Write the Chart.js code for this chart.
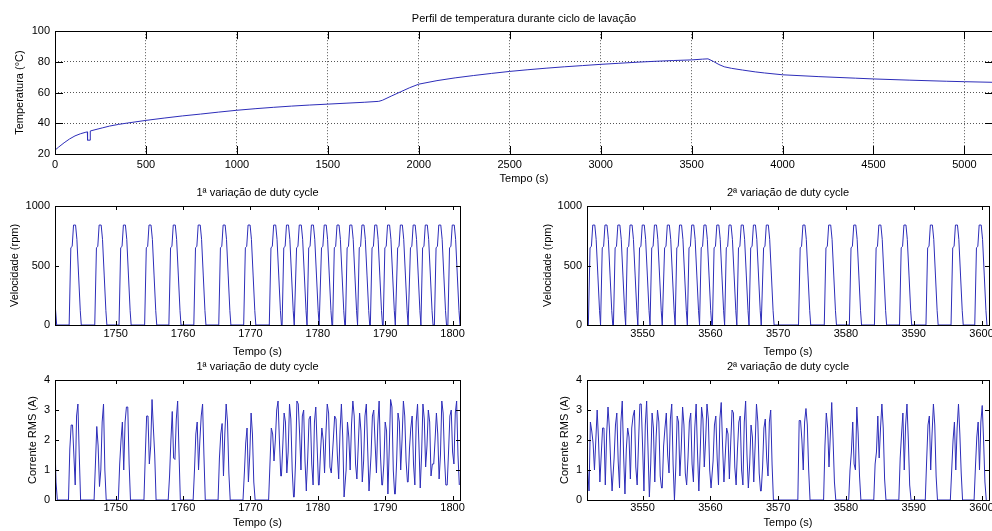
<!DOCTYPE html>
<html>
<head>
<meta charset="utf-8">
<script src="https://cdn.jsdelivr.net/npm/chart.js@4.4.0/dist/chart.umd.min.js"></script>
<style>
  body { margin: 0; background: #fff; width: 992px; height: 531px; overflow: hidden; position: relative; }
  canvas { position: absolute; }
</style>
</head>
<body>
<canvas id="tempChart" width="1000" height="190" style="left:0px;top:0px"></canvas>
<canvas id="vel1" width="480" height="178" style="left:0px;top:182px"></canvas>
<canvas id="vel2" width="500" height="178" style="left:500px;top:182px"></canvas>
<canvas id="cur1" width="480" height="173" style="left:0px;top:358px"></canvas>
<canvas id="cur2" width="500" height="173" style="left:500px;top:358px"></canvas>
<script>
// temperature profile (s, °C)
const tempTime = [0, 20, 50, 80, 110, 140, 170, 178, 179, 193, 194, 220, 260, 300, 350, 400, 500, 600, 700, 800,
  900, 1000, 1100, 1200, 1300, 1400, 1500, 1600, 1700, 1780, 1800, 1850, 1900, 1950, 2000, 2100, 2200, 2300,
  2400, 2500, 2600, 2700, 2800, 2900, 3000, 3100, 3200, 3300, 3400, 3500, 3560, 3590, 3620, 3650, 3680, 3720,
  3780, 3850, 3900, 4000, 4200, 4400, 4500, 4700, 4900, 5000, 5160];
const tempValue = [22.5, 24.5, 27.3, 29.8, 31.8, 33.2, 34.2, 34.4, 29, 29, 35, 35.8, 37, 38.2, 39.3, 40.2, 41.9, 43.4, 44.8, 46.0,
  47.3, 48.5, 49.5, 50.4, 51.2, 51.9, 52.5, 53.1, 53.7, 54.3, 55.0, 57.8, 60.5, 63.2, 65.5, 67.8, 69.6, 71.1,
  72.5, 73.8, 74.9, 75.9, 76.8, 77.6, 78.4, 79.1, 79.8, 80.4, 80.9, 81.3, 81.8, 82.0, 80.3, 78.3, 76.8, 75.8,
  74.7, 73.5, 72.8, 71.6, 70.4, 69.4, 68.9, 68.1, 67.4, 67.1, 66.7];
const tempTicksX = [0, 500, 1000, 1500, 2000, 2500, 3000, 3500, 4000, 4500, 5000];
const tempTicksY = [20, 40, 60, 80, 100];

// speed pulses: peak times and pulse profile
const vel1Peaks = [1743.9, 1747.7, 1751.3, 1755.1, 1758.7, 1762.4, 1766.1, 1769.8, 1773.6, 1775.5, 1777.4, 1779.2,
  1781.1, 1783.0, 1784.9, 1786.7, 1788.6, 1790.5, 1792.4, 1794.3, 1796.1, 1798.1, 1800.1];
const vel2Peaks = [3542.8, 3544.6, 3546.5, 3548.3, 3550.1, 3551.9, 3553.8, 3555.6, 3557.4, 3559.2, 3561.1, 3562.9,
  3564.7, 3566.5, 3568.4, 3573.8, 3577.6, 3581.3, 3585.0, 3588.7, 3592.6, 3596.3, 3599.8];
const pulseOffsets = [-0.8, -0.55, -0.35, -0.15, 0.15, 0.35, 0.6, 0.85, 1.0];
const pulseRpm = [0, 650, 660, 840, 840, 720, 420, 120, 0];
const velTicksY = [0, 500, 1000];

// RMS current, one row per speed pulse
const curOffsets = [-0.9, -0.7, -0.5, -0.3, -0.1, 0.1, 0.3, 0.5, 0.7, 0.9];
const cur1Bursts = [
  [0, 1.7, 2.5, 2.5, 1.5, 0.5, 2.8, 3.2, 1.5, 0],
  [0, 1.2, 2.45, 1.8, 0.45, 1.0, 2.6, 3.2, 1.0, 0],
  [0, 1.2, 2.0, 2.6, 1.0, 2.6, 3.1, 3.1, 1.2, 0],
  [0, 1.5, 2.8, 2.8, 1.2, 1.8, 3.35, 2.4, 1.5, 0],
  [0, 0.8, 2.0, 2.95, 1.4, 1.35, 2.7, 3.3, 1.6, 0],
  [0, 1.0, 2.2, 2.6, 1.0, 2.0, 2.8, 3.2, 1.5, 0],
  [0, 1.4, 2.2, 2.55, 0.8, 2.2, 3.2, 2.6, 0.9, 0],
  [0, 0.9, 1.9, 2.4, 0.6, 1.5, 2.9, 2.2, 0.6, 0],
  [0, 1.2, 2.4, 2.2, 1.3, 2.0, 3.0, 3.3, 2.0, 0.8],
  [0.8, 1.8, 2.9, 2.6, 0.9, 1.6, 3.2, 2.7, 1.0, 0.1],
  [0.1, 1.3, 3.3, 3.2, 2.2, 1.0, 2.8, 3.0, 1.3, 0.3],
  [0.4, 1.4, 2.7, 2.8, 1.2, 0.5, 2.6, 3.1, 1.8, 0.5],
  [0.5, 1.6, 2.4, 2.0, 0.9, 2.2, 3.2, 2.9, 1.1, 0.9],
  [0.9, 2.0, 2.8, 2.7, 1.5, 0.7, 2.3, 3.2, 2.1, 0.1],
  [0.1, 1.0, 2.6, 2.1, 1.0, 2.5, 3.3, 2.8, 1.2, 0.7],
  [0.7, 1.8, 2.9, 2.3, 0.6, 1.3, 2.8, 3.2, 1.7, 0.3],
  [0.3, 1.5, 2.8, 3.0, 1.9, 0.9, 2.5, 3.3, 1.5, 0.5],
  [0.5, 1.2, 2.6, 2.3, 0.2, 1.7, 3.35, 3.1, 1.0, 0.2],
  [0.2, 1.3, 2.9, 2.6, 1.0, 2.0, 3.3, 2.8, 1.3, 0.6],
  [0.6, 1.7, 2.4, 2.8, 1.2, 0.5, 2.6, 3.2, 1.9, 0.4],
  [0.4, 1.5, 3.2, 2.7, 1.1, 1.8, 3.0, 2.6, 0.8, 1.2],
  [1.2, 2.0, 2.9, 2.2, 0.7, 1.5, 3.3, 2.9, 1.4, 0.5],
  [0.5, 1.6, 2.8, 3.0, 1.6, 1.2, 2.9, 3.3, 1.5, 0.5]
];
const cur2Bursts = [
  [1.0, 0.3, 2.6, 2.3, 1.9, 1.0, 2.0, 3.0, 2.0, 0.6],
  [0.6, 1.5, 2.4, 2.4, 0.5, 2.2, 3.1, 2.4, 1.2, 0.3],
  [0.3, 1.4, 2.5, 2.9, 1.3, 0.4, 2.6, 3.3, 1.5, 0.2],
  [0.2, 1.7, 2.4, 2.1, 0.7, 2.4, 2.8, 3.0, 1.1, 0.5],
  [0.5, 1.9, 3.2, 3.2, 1.8, 0.3, 2.5, 3.3, 1.7, 0.1],
  [0.1, 1.2, 2.9, 2.4, 0.6, 2.1, 3.0, 2.6, 0.8, 0.4],
  [0.4, 1.8, 2.4, 2.9, 1.5, 0.9, 2.7, 3.2, 1.2, 0.0],
  [0.0, 1.1, 2.8, 2.6, 0.8, 1.7, 3.1, 2.5, 0.9, 0.5],
  [0.5, 1.4, 2.6, 2.9, 1.2, 0.6, 2.4, 3.2, 1.6, 0.3],
  [0.3, 1.6, 3.1, 2.7, 1.1, 2.0, 3.2, 2.7, 1.0, 0.4],
  [0.4, 1.3, 2.5, 2.8, 1.4, 0.5, 2.7, 3.25, 1.8, 0.6],
  [0.6, 1.5, 2.4, 2.2, 0.7, 1.9, 3.0, 2.9, 1.1, 0.5],
  [0.5, 1.7, 2.6, 2.8, 1.0, 0.5, 2.6, 3.3, 1.5, 0.4],
  [0.4, 1.2, 2.5, 2.1, 0.6, 1.8, 3.2, 2.6, 0.9, 0.3],
  [0.3, 1.1, 2.4, 2.7, 1.4, 0.8, 2.6, 3.0, 1.2, 0.0],
  [0, 2.65, 2.65, 2.0, 1.0, 2.6, 3.05, 2.5, 1.0, 0],
  [0, 1.8, 2.9, 2.4, 1.1, 2.2, 3.25, 2.0, 0.6, 0],
  [0, 1.0, 1.6, 2.6, 1.2, 1.0, 3.1, 2.2, 0.8, 0],
  [0, 1.2, 1.6, 2.8, 1.4, 2.4, 3.2, 2.4, 0.7, 0],
  [0, 1.4, 2.2, 2.9, 1.0, 2.5, 3.2, 2.0, 0.5, 0],
  [0, 1.3, 2.5, 2.8, 1.0, 2.2, 3.2, 2.5, 0.8, 0],
  [0, 1.0, 2.0, 2.6, 1.0, 2.4, 3.2, 2.2, 0.9, 0],
  [0, 1.1, 2.1, 2.6, 1.0, 2.6, 3.15, 2.0, 0.6, 0]
];
const curTicksY = [0, 1, 2, 3, 4];
const ticks1X = [1750, 1760, 1770, 1780, 1790, 1800];
const ticks2X = [3550, 3560, 3570, 3580, 3590, 3600];

// trace that is already falling at the left edge of the 1st window
const vel1Lead = [{x: 1741.0, y: 190}, {x: 1741.25, y: 0}];
const cur1Lead = [{x: 1741.0, y: 1.8}, {x: 1741.15, y: 0.6}, {x: 1741.35, y: 0}];

const lineColor = 'rgb(45,45,185)';
const fontFam = '"Liberation Sans", Arial, sans-serif';

function pulseTrain(peaks) {
  const pts = [];
  peaks.forEach(t => pulseOffsets.forEach((o, i) => pts.push({x: t + o, y: pulseRpm[i]})));
  return pts;
}

function burstTrain(peaks, rows) {
  const pts = [];
  peaks.forEach((t, k) => curOffsets.forEach((o, i) => pts.push({x: t + o, y: rows[k][i]})));
  return pts;
}

// box around the axes with inward tick marks, like matlab
const matlabAxes = {
  id: 'matlabAxes',
  afterDraw(chart, args, opts) {
    const {ctx, chartArea: a, scales} = chart;
    const len = opts.tickLen || 4;
    ctx.save();
    ctx.strokeStyle = '#000';
    ctx.lineWidth = 1;
    ctx.beginPath();
    scales.x.ticks.forEach(t => {
      const px = Math.round(scales.x.getPixelForValue(t.value)) + 0.5;
      ctx.moveTo(px, a.bottom); ctx.lineTo(px, a.bottom - len);
      ctx.moveTo(px, a.top); ctx.lineTo(px, a.top + len);
    });
    scales.y.ticks.forEach(t => {
      const py = Math.round(scales.y.getPixelForValue(t.value)) + 0.5;
      ctx.moveTo(a.left, py); ctx.lineTo(a.left + len, py);
      ctx.moveTo(a.right, py); ctx.lineTo(a.right - len, py);
    });
    ctx.stroke();
    ctx.strokeRect(Math.round(a.left) + 0.5, Math.round(a.top) + 0.5,
      Math.round(a.right - a.left), Math.round(a.bottom - a.top));
    ctx.restore();
  }
};

function makeChart(id, c) {
  const font = {family: fontFam, size: 11};
  return new Chart(document.getElementById(id), {
    type: 'line',
    data: {
      datasets: [{
        data: c.points, borderColor: lineColor, borderWidth: 1,
        pointRadius: 0, tension: 0, fill: false
      }]
    },
    options: {
      responsive: false,
      animation: false,
      events: [],
      layout: { padding: { left: 0, right: c.padRight, top: 0, bottom: 0 } },
      plugins: {
        legend: { display: false },
        tooltip: { enabled: false },
        title: {
          display: true, text: c.title, color: '#000', fullSize: false,
          font: {family: fontFam, size: 11, weight: 'normal'},
          padding: { top: c.titleTop, bottom: c.titleBottom }
        },
        matlabAxes: { tickLen: c.tickLen }
      },
      scales: {
        x: {
          type: 'linear', min: c.xMin, max: c.xMax,
          afterFit: s => { s.height = c.xHeight; },
          afterBuildTicks: s => { s.ticks = c.xTicks.map(v => ({value: v})); },
          grid: { display: c.grid, color: '#555', drawTicks: false },
          border: { display: false, dash: [1, 2] },
          ticks: { font: font, color: '#000', padding: c.xPad, maxRotation: 0, autoSkip: false,
            callback: v => String(v) },
          title: { display: true, text: 'Tempo (s)', color: '#000', font: font,
            padding: { top: 0, bottom: c.xTitlePad } }
        },
        y: {
          type: 'linear', min: c.yMin, max: c.yMax,
          afterFit: s => { s.width = c.yWidth; },
          afterBuildTicks: s => { s.ticks = c.yTicks.map(v => ({value: v})); },
          grid: { display: c.grid, color: '#555', drawTicks: false },
          border: { display: false, dash: [1, 2] },
          ticks: { font: font, color: '#000', padding: 5, autoSkip: false,
            callback: v => String(v) },
          title: { display: true, text: c.yTitle, color: '#000', font: font,
            padding: { top: c.yTitlePad, bottom: 0 } }
        }
      }
    },
    plugins: [matlabAxes]
  });
}

makeChart('tempChart', {
  points: tempTime.map((t, i) => ({x: t, y: tempValue[i]})),
  title: 'Perfil de temperatura durante ciclo de lavação',
  titleTop: 12, titleBottom: 6, padRight: 7, tickLen: 8, grid: true,
  xMin: 0, xMax: 5157, xTicks: tempTicksX, xHeight: 36, xPad: 4, xTitlePad: 4,
  yMin: 20, yMax: 100, yTicks: tempTicksY, yWidth: 55, yTitle: 'Temperatura (°C)', yTitlePad: 13
});

makeChart('vel1', {
  points: vel1Lead.concat(pulseTrain(vel1Peaks)),
  title: '1ª variação de duty cycle',
  titleTop: 4.4, titleBottom: 6.4, padRight: 20, tickLen: 4, grid: false,
  xMin: 1741, xMax: 1801.1, xTicks: ticks1X, xHeight: 35, xPad: 2, xTitlePad: 1.4,
  yMin: 0, yMax: 1000, yTicks: velTicksY, yWidth: 55, yTitle: 'Velocidade (rpm)', yTitlePad: 8.4
});

makeChart('vel2', {
  points: pulseTrain(vel2Peaks),
  title: '2ª variação de duty cycle',
  titleTop: 4.4, titleBottom: 6.4, padRight: 11, tickLen: 4, grid: false,
  xMin: 3541.8, xMax: 3601.1, xTicks: ticks2X, xHeight: 35, xPad: 2, xTitlePad: 1.4,
  yMin: 0, yMax: 1000, yTicks: velTicksY, yWidth: 87, yTitle: 'Velocidade (rpm)', yTitlePad: 41.4
});

makeChart('cur1', {
  points: cur1Lead.concat(burstTrain(vel1Peaks, cur1Bursts)),
  title: '1ª variação de duty cycle',
  titleTop: 2.4, titleBottom: 6.4, padRight: 20, tickLen: 4, grid: false,
  xMin: 1741, xMax: 1801.1, xTicks: ticks1X, xHeight: 31, xPad: 1.5, xTitlePad: 1.4,
  yMin: 0, yMax: 4, yTicks: curTicksY, yWidth: 55, yTitle: 'Corrente RMS (A)', yTitlePad: 26.4
});

makeChart('cur2', {
  points: burstTrain(vel2Peaks, cur2Bursts),
  title: '2ª variação de duty cycle',
  titleTop: 2.4, titleBottom: 6.4, padRight: 11, tickLen: 4, grid: false,
  xMin: 3541.8, xMax: 3601.1, xTicks: ticks2X, xHeight: 31, xPad: 1.5, xTitlePad: 1.4,
  yMin: 0, yMax: 4, yTicks: curTicksY, yWidth: 87, yTitle: 'Corrente RMS (A)', yTitlePad: 58.4
});
</script>
</body>
</html>
